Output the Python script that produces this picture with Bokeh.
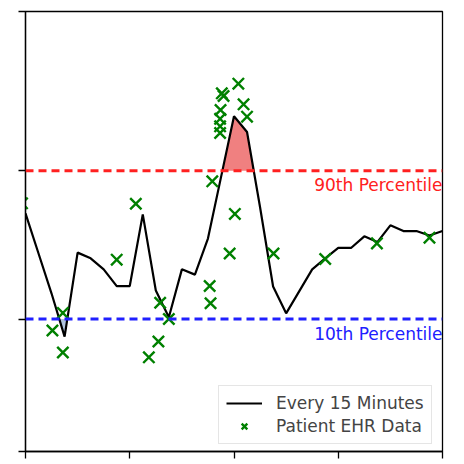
import numpy as np
from bokeh.plotting import figure
from bokeh.models import Range1d, FixedTicker, Label, Span, CustomJSTickFormatter
from bokeh.embed import file_html
from bokeh.resources import INLINE

# ---- data ----
minutes = [0, 15, 30, 45, 60, 75, 90, 105, 120, 135, 150, 165, 180, 195, 210, 225,
           240, 255, 270, 285, 300, 315, 330, 345, 360, 375, 390, 405, 420, 435, 450, 465, 480]
every_15 = [54.1, 45.0, 35.9, 26.1, 45.2, 43.9, 41.4, 37.6, 37.6, 53.9, 36.6, 30.5,
            41.4, 40.2, 48.4, 62.3, 76.2, 72.6, 55.5, 37.5, 31.4, 36.4, 41.4, 43.9,
            46.3, 46.3, 48.9, 47.6, 51.4, 50.1, 50.1, 49.1, 50.1]

ehr_minutes = [-4, 31, 43, 43, 105, 127, 142, 153, 155, 165, 212, 213, 215, 224, 224,
               224, 224.5, 226, 228, 235, 241, 245, 251, 255, 285.5, 345, 404.5, 465]
ehr_values = [56.4, 27.5, 31.5, 22.5, 43.6, 56.3, 21.4, 25.0, 33.8, 30.1, 37.6, 33.7,
              61.4, 72.4, 73.9, 75.6, 77.6, 81.4, 80.8, 45.0, 54.0, 83.6, 78.9, 76.1,
              45.0, 43.75, 47.3, 48.6]

p10 = 30.1
p90 = 63.8
y_min, y_max = 0, 100
x_ticks = [0, 120, 240, 360, 480]

FONT = "DejaVu Sans"

p = figure(width=464, height=464, output_backend="svg", toolbar_location=None,
           x_range=Range1d(minutes[0], minutes[-1]), y_range=Range1d(y_min, y_max),
           min_border_left=25, min_border_right=22, min_border_top=11, min_border_bottom=13)
p.xgrid.visible = False
p.ygrid.visible = False
p.outline_line_color = "black"
p.outline_line_width = 1.3
p.background_fill_color = "white"
p.border_fill_color = "white"

for ax in (p.xaxis[0], p.yaxis[0]):
    ax.formatter = CustomJSTickFormatter(code="return ''")
    ax.major_label_standoff = 0
    ax.minor_tick_line_color = None
    ax.major_tick_in = 0
    ax.major_tick_out = 7
    ax.major_tick_line_width = 1.3
    ax.axis_line_width = 1.3
p.xaxis.ticker = FixedTicker(ticks=x_ticks)
p.yaxis.ticker = FixedTicker(ticks=[y_min, p10, p90, y_max])

# ---- shaded excursions ----
x = np.array(minutes, float)
y = np.array(every_15, float)
xs = list(x)
for thr in (p10, p90):
    for i in range(len(x) - 1):
        a, b = y[i] - thr, y[i + 1] - thr
        if a * b < 0:
            xs.append(x[i] + (x[i + 1] - x[i]) * a / (a - b))
xs = np.array(sorted(xs))
ys = np.interp(xs, x, y)
p.varea(x=xs, y1=p90, y2=np.maximum(ys, p90), fill_color="#f08080")
p.varea(x=xs, y1=np.minimum(ys, p10), y2=p10, fill_color="#b0c4de")

# ---- percentile lines ----
p.add_layout(Span(location=p90, dimension="width", line_color="#ff2020",
                  line_width=3, line_dash="8 5"))
p.add_layout(Span(location=p10, dimension="width", line_color="#2020ff",
                  line_width=3, line_dash="8 5"))

p.line(minutes, every_15, line_color="black", line_width=2.2,
       legend_label="Every 15 Minutes")
p.scatter(ehr_minutes, ehr_values, marker="x", size=16, line_color="green",
          line_width=2.4, legend_label="Patient EHR Data")

p.add_layout(Label(x=minutes[-1], y=p90, text="90th Percentile", text_align="right",
                   text_baseline="alphabetic", y_offset=-14.5, text_color="#ff2020",
                   text_font=FONT, text_font_size="17px"))
p.add_layout(Label(x=minutes[-1], y=p10, text="10th Percentile", text_align="right",
                   text_baseline="alphabetic", y_offset=-14.5, text_color="#2020ff",
                   text_font=FONT, text_font_size="17px"))

lg = p.legend[0]
lg.location = (193, 7)
lg.margin = 0
lg.padding = 7
lg.spacing = 3
lg.glyph_width = 36
lg.glyph_height = 20
lg.label_height = 20
lg.label_standoff = 14
lg.label_text_font = FONT
lg.label_text_font_size = "17px"
lg.border_line_color = "#cccccc"
lg.border_line_width = 1
lg.background_fill_alpha = 0.85

open("out.html", "w").write(file_html(p, INLINE))
